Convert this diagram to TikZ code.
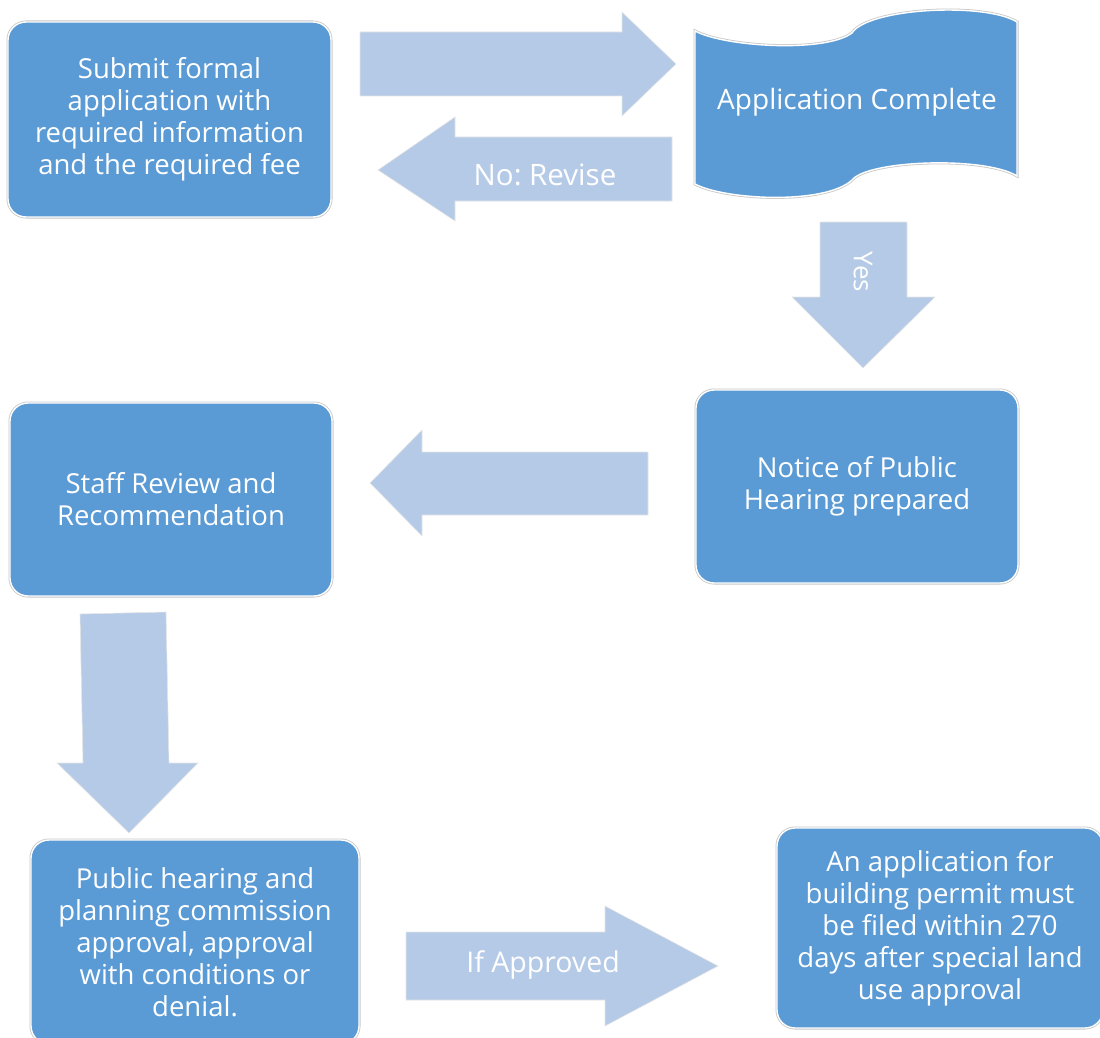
\documentclass[tikz,border=0pt]{standalone}
\usepackage{fontspec}
\setmainfont{Open Sans}
\definecolor{boxblue}{RGB}{91,155,213}
\definecolor{arrblue}{RGB}{181,202,231}
\begin{document}
\frenchspacing
\begin{tikzpicture}[x=1pt,y=-1pt,
  procbox/.style={rectangle, rounded corners=18pt, fill=boxblue, inner sep=0pt,
    preaction={draw=black!22, line width=3pt}, draw=white, line width=1.4pt,
    text=white, align=center, font=\fontsize{27.5}{32}\selectfont},
  blockarrow/.style={fill=arrblue, draw=black!10, line width=0.6pt},
  arrtext/.style={text=white, font=\fontsize{29.5}{32}\selectfont, inner sep=0pt}]
\useasboundingbox (0,0) rectangle (1100,1038);
\clip (0,0) rectangle (1100,1038);

% boxes
\node[procbox, minimum width=323pt, minimum height=195pt] (submit) at (169.5,119.5)
  {Submit formal\\application with\\required information\\and the required fee};
\node[procbox, minimum width=322pt, minimum height=193pt] (notice) at (857,486.5)
  {Notice of Public\\Hearing prepared};
\node[procbox, minimum width=322pt, minimum height=193pt] (staff) at (171,499.5)
  {Staff Review and\\Recommendation};
\node[procbox, minimum width=328pt, minimum height=204pt] (public) at (195,942)
  {Public hearing and\\planning commission\\approval, approval\\with conditions or\\denial.};
\node[procbox, minimum width=326pt, minimum height=200pt] (permit) at (940,928)
  {An application for\\building permit must\\be filed within 270\\days after special land\\use approval};

% wave-shaped "Application Complete"
\path[fill=boxblue, preaction={draw=black!22, line width=3pt}, draw=white, line width=1.4pt]
  (695,31) .. controls (725,47) and (825,53) .. (852,33)
  .. controls (868,8) and (985,2) .. (1017,22)
  -- (1017,176)
  .. controls (985,156) and (868,160) .. (852,180)
  .. controls (825,205) and (725,200) .. (695,184) -- cycle;
\node[text=white, font=\fontsize{28}{32}\selectfont, inner sep=0pt] (complete) at (857,102) {Application Complete};

% block arrows
\path[blockarrow] (360,32) -- (622,32) -- (622,12) -- (676,64) -- (622,116) -- (622,96) -- (360,96) -- cycle;
\path[blockarrow] (672,137) -- (455,137) -- (455,117) -- (378,170) -- (455,221) -- (455,201) -- (672,201) -- cycle;
\node[arrtext] (revise) at (545,175) {No: Revise};

\path[blockarrow] (820,222) -- (907,222) -- (907,297) -- (935,297) -- (863,368) -- (792,297) -- (820,297) -- cycle;
\node[arrtext, rotate=-90, font=\fontsize{26}{30}\selectfont] (yes) at (863,272) {Yes};

\path[blockarrow] (648,452) -- (422,452) -- (422,430) -- (370,483) -- (422,536) -- (422,515) -- (648,515) -- cycle;

\path[blockarrow] (80,614) -- (166,612) -- (169,763) -- (198,763) -- (129,833) -- (57,763) -- (83,763) -- cycle;

\path[blockarrow] (406,932) -- (605,932) -- (605,906) -- (718,966) -- (605,1026) -- (605,1000) -- (406,1000) -- cycle;
\node[arrtext, font=\fontsize{28.5}{32}\selectfont] (approved) at (543,965) {If Approved};
\end{tikzpicture}
\end{document}
